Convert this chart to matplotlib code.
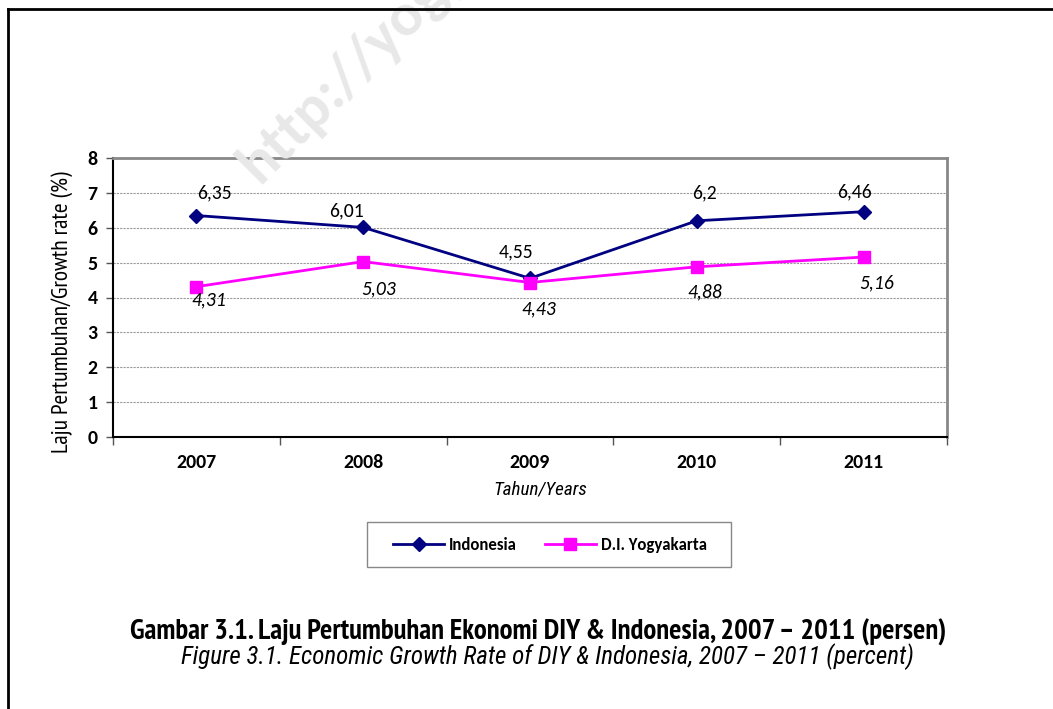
import matplotlib
matplotlib.use("Agg")
import matplotlib.pyplot as plt
from matplotlib import font_manager
from matplotlib.font_manager import FontProperties
from matplotlib.lines import Line2D
from matplotlib.patches import Rectangle

years = ["2007", "2008", "2009", "2010", "2011"]
indonesia = [6.35, 6.01, 4.55, 6.20, 6.46]
diy = [4.31, 5.03, 4.43, 4.88, 5.16]
indonesia_labels = ["6,35", "6,01", "4,55", "6,2", "6,46"]
diy_labels = ["4,31", "5,03", "4,43", "4,88", "5,16"]
series_names = ["Indonesia", "D.I. Yogyakarta"]

# label offsets in pixels (layout only)
ind_off = [(18, 23), (-17, 17), (-14, 26), (8, 28), (-9, 20)]
diy_off = [(12, -13), (15, -27), (9, -26), (8, -25), (13, -26)]

ttfs = font_manager.fontManager.ttflist


def has_variant(fam, style, bold):
    for f in ttfs:
        if f.name != fam or f.style != style:
            continue
        w = f.weight if isinstance(f.weight, int) else (700 if f.weight == "bold" else 400)
        if (w >= 650) == bold and "[" not in f.fname:
            return True
    return False


def pick(names, style, bold, default):
    for n in names:
        if has_variant(n, style, bold):
            return n
    return default


narrow_list = ["Liberation Sans Narrow", "Arimo Narrow", "PT Sans Narrow", "Roboto Condensed",
               "Archivo Narrow", "Barlow Semi Condensed", "Asap Condensed"]
cal_list = ["Carlito", "Lato", "Open Sans"]

nar_reg = pick(narrow_list, "normal", False, "Liberation Sans")
nar_bold = pick(narrow_list, "normal", True, "Liberation Sans")
nar_it = pick(narrow_list, "italic", False, "Liberation Sans")
cal_reg = pick(cal_list, "normal", False, "DejaVu Sans")
cal_bold = pick(cal_list, "normal", True, "DejaVu Sans")
cal_it = pick(cal_list, "italic", False, "DejaVu Sans")

fig = plt.figure(figsize=(10.53, 7.09), dpi=100)
W, H = 1053, 709
renderer = fig.canvas.get_renderer()


def fx(px):
    return px / W


def fy(py):
    return 1 - py / H


def size_for(text, fam, target_w, weight="normal", style="normal"):
    t = fig.text(0, 0, text, family=fam, fontweight=weight, style=style, fontsize=10)
    bb = t.get_window_extent(renderer)
    t.remove()
    return 10 * target_w / bb.width


# font sizes from measured widths in the reference (pixels)
s_lab = size_for("6,35", cal_reg, 35)
s_xt = size_for("2009", cal_bold, 40, weight="bold")
s_yt = size_for("8", cal_bold, 10, weight="bold")
s_leg = size_for("Indonesia", cal_bold, 68, weight="bold")
s_ylab = size_for("Laju Pertumbuhan/Growth rate (%)", nar_reg, 281)
s_xlab = size_for("Tahun/Years", nar_it, 94, style="italic")
cap1 = "Gambar 3.1. Laju Pertumbuhan Ekonomi DIY & Indonesia, 2007 \u2013 2011 (persen)"
cap2 = "Figure 3.1. Economic Growth Rate of DIY & Indonesia, 2007 \u2013 2011 (percent)"
s_cap1 = size_for(cap1, nar_bold, 820, weight="bold")
s_cap2 = size_for(cap2, nar_it, 729, style="italic")

# watermark
fig.text(fx(266), fy(192), "http://yogyakarta.bps.go.id", rotation=45, fontsize=44,
         fontweight="bold", family=cal_bold, color="#e8e8e8", ha="left", va="bottom",
         rotation_mode="anchor", zorder=0)

# outer border
fig.add_artist(Line2D([fx(8), fx(8)], [fy(9), 0], color="black", lw=2))
fig.add_artist(Line2D([fx(8), 1], [fy(9), fy(9)], color="black", lw=2))

ax = fig.add_axes([fx(113), fy(437), fx(947) - fx(113), fy(158) - fy(437)])
ax.set_facecolor("none")
x = list(range(len(years)))

ax.plot(x, indonesia, color="#000080", lw=2, marker="D", markersize=7.5,
        label=series_names[0], zorder=3)
ax.plot(x, diy, color="#FF00FF", lw=2, marker="s", markersize=9,
        label=series_names[1], zorder=3)

for i in x:
    ax.annotate(indonesia_labels[i], (i, indonesia[i]), xytext=ind_off[i],
                textcoords="offset pixels", ha="center", va="center",
                fontsize=s_lab, family=cal_reg, color="black")
    ax.annotate(diy_labels[i], (i, diy[i]), xytext=diy_off[i],
                textcoords="offset pixels", ha="center", va="center",
                fontsize=s_lab, family=cal_it, style="italic", color="black")

ax.set_xlim(-0.5, len(years) - 0.5)
ax.set_ylim(0, 8)
ax.set_yticks(range(0, 9))
ax.set_xticks(x)
ax.set_xticklabels(years)
ax.set_xticks([i - 0.5 for i in range(len(years) + 1)], minor=True)
ax.tick_params(axis="x", which="major", length=0, pad=12)
ax.tick_params(axis="x", which="minor", length=6, width=1, color="#555555", direction="out")
ax.tick_params(axis="y", length=5, width=1, color="#555555", pad=6)
for lab in ax.get_xticklabels():
    lab.set_fontproperties(FontProperties(family=cal_bold, weight="bold", size=s_xt))
for lab in ax.get_yticklabels():
    lab.set_fontproperties(FontProperties(family=cal_bold, weight="bold", size=s_yt))

ax.grid(axis="y", color="#9a9a9a", lw=0.8, ls=(0, (2, 1)))
ax.set_axisbelow(True)
for s in ["left", "bottom"]:
    ax.spines[s].set_color("black")
    ax.spines[s].set_linewidth(1.5)
for s in ["top", "right"]:
    ax.spines[s].set_color("#888888")
    ax.spines[s].set_linewidth(2)

fig.text(fx(62), fy(312), "Laju Pertumbuhan/Growth rate (%)", rotation=90, ha="center",
         va="center", family=nar_reg, fontsize=s_ylab)
fig.text(fx(540), fy(490), "Tahun/Years", ha="center", va="center",
         family=nar_it, style="italic", fontsize=s_xlab)

# legend box
fig.add_artist(Rectangle((fx(367), fy(567)), fx(731) - fx(367), fy(522) - fy(567),
                         transform=fig.transFigure, fill=False, edgecolor="#888888", lw=1))
fs_px = s_leg * 100 / 72
leg = fig.legend(loc="center left", bbox_to_anchor=(fx(396 - 3), fy(545)), ncol=2, frameon=False,
                 prop={"family": cal_bold, "weight": "bold", "size": s_leg},
                 handlelength=51 / fs_px, columnspacing=28 / fs_px,
                 handletextpad=5 / fs_px, borderpad=0, borderaxespad=0)

fig.text(fx(538), fy(632), cap1, ha="center", va="center",
         family=nar_bold, fontweight="bold", fontsize=s_cap1)
fig.text(fx(547), fy(657), cap2, ha="center", va="center",
         family=nar_it, style="italic", fontsize=s_cap2)

fig.savefig("out.png", dpi=100)
